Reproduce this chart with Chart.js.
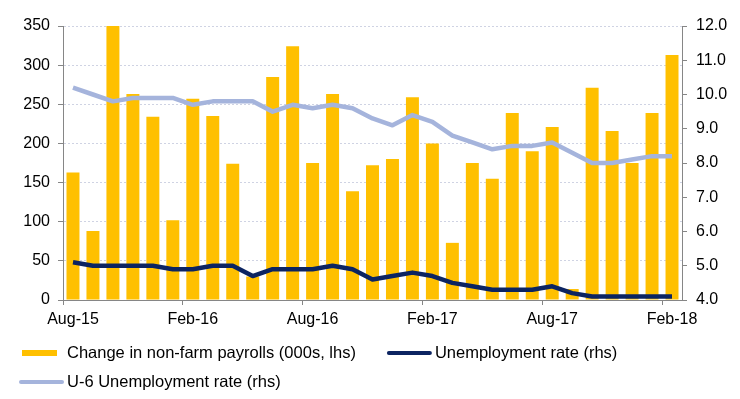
<!DOCTYPE html>
<html>
<head>
<meta charset="utf-8">
<script src="https://cdn.jsdelivr.net/npm/chart.js@4/dist/chart.umd.min.js"></script>
<style>
html,body{margin:0;padding:0;background:#fff;}
#wrap{width:740px;height:399px;position:relative;}
</style>
</head>
<body>
<div id="wrap"><canvas id="c" width="740" height="399"></canvas></div>
<script>
const months = ["Aug-15","Sep-15","Oct-15","Nov-15","Dec-15","Jan-16","Feb-16","Mar-16","Apr-16","May-16","Jun-16","Jul-16","Aug-16","Sep-16","Oct-16","Nov-16","Dec-16","Jan-17","Feb-17","Mar-17","Apr-17","May-17","Jun-17","Jul-17","Aug-17","Sep-17","Oct-17","Nov-17","Dec-17","Jan-18","Feb-18"];
const payrolls = [163,88,350,263,234,102,257,235,174,30,285,324,175,263,139,172,180,259,200,73,175,155,239,190,221,14,271,216,175,239,313];
const unemployment = [5.1,5.0,5.0,5.0,5.0,4.9,4.9,5.0,5.0,4.7,4.9,4.9,4.9,5.0,4.9,4.6,4.7,4.8,4.7,4.5,4.4,4.3,4.3,4.3,4.4,4.2,4.1,4.1,4.1,4.1,4.1];
const u6 = [10.2,10.0,9.8,9.9,9.9,9.9,9.7,9.8,9.8,9.8,9.5,9.7,9.6,9.7,9.6,9.3,9.1,9.4,9.2,8.8,8.6,8.4,8.5,8.5,8.6,8.3,8.0,8.0,8.1,8.2,8.2];
const xLabelEvery = 6;
const leftTicks = [0,50,100,150,200,250,300,350];
const rightTicks = [4,5,6,7,8,9,10,11,12];
const seriesNames = ["Change in non-farm payrolls (000s, lhs)","Unemployment rate (rhs)","U-6 Unemployment rate (rhs)"];

const FONT = {family: "'Liberation Sans', Arial, sans-serif", size: 16};
const AXIS = '#868686';

const customLegend = {
  id:'customLegend',
  afterDraw(chart){
    const ctx = chart.ctx;
    ctx.save();
    ctx.font = "16.5px 'Liberation Sans', Arial, sans-serif";
    ctx.textBaseline = 'middle';
    ctx.textAlign = 'left';
    const startX = 21, rowY = [353, 382], marker = 38, gapText = 8, gapItem = 33;
    let x = startX, row = 0;
    chart.data.datasets.forEach((d, i) => {
      const tw = ctx.measureText(d.label).width;
      const w = marker + gapText + tw;
      if (i > 0 && x + w > chart.width - 5) { row++; x = startX; }
      const y = rowY[row];
      if (d.type === 'bar') {
        ctx.fillStyle = d.backgroundColor;
        ctx.fillRect(x + 1, y - 3, marker - 3, 6);
      } else {
        ctx.strokeStyle = d.borderColor;
        ctx.lineWidth = 4;
        ctx.lineCap = 'round';
        ctx.beginPath();
        ctx.moveTo(x, y); ctx.lineTo(x + marker + 3, y);
        ctx.stroke();
      }
      ctx.fillStyle = '#000';
      ctx.fillText(d.label, x + marker + gapText, y);
      x += w + gapItem;
    });
    ctx.restore();
  }
};

new Chart(document.getElementById('c'), {
  data: {
    labels: months,
    datasets: [
      {type:'bar', label: seriesNames[0], data: payrolls, backgroundColor:'#FFC000', yAxisID:'y', order:3, barPercentage:0.65, categoryPercentage:1},
      {type:'line', label: seriesNames[1], data: unemployment, borderColor:'#0C2461', backgroundColor:'#0C2461', borderWidth:4.5, pointRadius:0, yAxisID:'y2', order:1, tension:0, borderJoinStyle:'round'},
      {type:'line', label: seriesNames[2], data: u6, borderColor:'#A5B4DC', backgroundColor:'#A5B4DC', borderWidth:4.5, pointRadius:0, yAxisID:'y2', order:2, tension:0, borderJoinStyle:'round'}
    ]
  },
  plugins:[customLegend],
  options: {
    responsive:false, animation:false,
    layout:{padding:{left:0,right:0,top:26,bottom:68}},
    plugins:{ tooltip:{enabled:false}, legend:{display:false} },
    scales:{
      x:{
        type:'category', position:'bottom', offset:true,
        afterFit(s){ s.height = 31; },
        ticks:{font:FONT, color:'#000', padding:5, maxRotation:0, autoSkip:false,
          callback(v, i){ return i % xLabelEvery === 0 ? months[i] : ''; }},
        grid:{offset:true, drawOnChartArea:false, tickLength:5,
          tickColor(c){ return (c.index % xLabelEvery === 0) ? AXIS : 'rgba(0,0,0,0)'; },
          color:'rgba(0,0,0,0)'},
        border:{color:AXIS, width:1}
      },
      y:{
        type:'linear', position:'left', min:0, max:350,
        afterBuildTicks(s){ s.ticks = leftTicks.map(v=>({value:v})); },
        afterFit(s){ s.width = 63; },
        ticks:{font:FONT, color:'#000', padding:8},
        grid:{color:'#CFD3E3', tickLength:5, tickColor:AXIS, lineWidth:1},
        border:{color:AXIS, width:1, dash:[2,2]}
      },
      y2:{
        type:'linear', position:'right', min:4, max:12,
        afterBuildTicks(s){ s.ticks = rightTicks.map(v=>({value:v})); },
        afterFit(s){ s.width = 58; },
        ticks:{font:FONT, color:'#000', padding:9, callback(v){ return Number(v).toFixed(1); }},
        grid:{drawOnChartArea:false, tickLength:5, color:AXIS},
        border:{color:AXIS, width:1}
      }
    }
  }
});
</script>
</body>
</html>
